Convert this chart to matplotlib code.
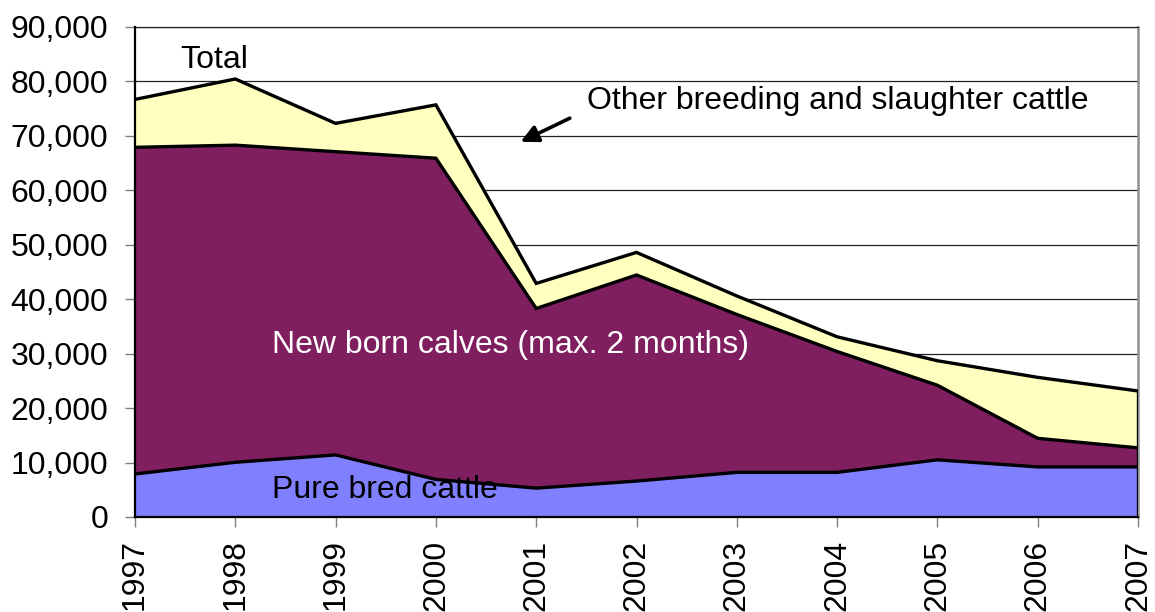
import matplotlib
matplotlib.use("Agg")
import matplotlib.pyplot as plt
import numpy as np

years = [1997, 1998, 1999, 2000, 2001, 2002, 2003, 2004, 2005, 2006, 2007]
pure_bred = [7900, 10050, 11400, 6900, 5300, 6600, 8200, 8200, 10500, 9200, 9200]
new_born_calves = [60000, 58250, 55700, 59000, 33000, 37850, 29000, 22200, 13700, 5250, 3500]
other_cattle = [8800, 12150, 5200, 9800, 4600, 4150, 3400, 2700, 4500, 11200, 10450]
y_ticks = [0, 10000, 20000, 30000, 40000, 50000, 60000, 70000, 80000, 90000]

plt.rcParams['font.family'] = ['Liberation Sans', 'DejaVu Sans']
FS = 23

fig = plt.figure(figsize=(11.55, 6.12), dpi=100)
ax = fig.add_axes([135/1155, (612-517)/612, 1003/1155, 490/612])

x = np.array(years)
p = np.array(pure_bred)
c = p + np.array(new_born_calves)
t = c + np.array(other_cattle)

ax.fill_between(x, 0, p, color='#8080FF', zorder=2, linewidth=0)
ax.fill_between(x, p, c, color='#7F1F5F', zorder=2, linewidth=0)
ax.fill_between(x, c, t, color='#FFFFC0', zorder=2, linewidth=0)
for s in (p, c, t):
    ax.plot(x, s, color='black', lw=2.4, zorder=3, solid_joinstyle='miter')
ax.plot([x[-1], x[-1]], [0, t[-1]], color='black', lw=2.4, zorder=3)

ax.set_xlim(years[0], years[-1])
ax.set_ylim(0, 90000)
ax.set_yticks(y_ticks)
ax.set_yticklabels([f"{v:,}" for v in y_ticks], fontsize=FS)
ax.set_xticks(years)
ax.set_xticklabels([str(y) for y in years], rotation=90, fontsize=FS)
ax.grid(axis='y', color='#222222', lw=0.9, zorder=1)
ax.set_axisbelow(True)
ax.tick_params(axis='both', direction='out', length=7.2, width=1, color='#808080')
ax.tick_params(axis='y', pad=12)
ax.tick_params(axis='x', pad=9)
ax.spines['top'].set_color('#222222')
ax.spines['top'].set_linewidth(0.9)
ax.spines['right'].set_color('#909090')
ax.spines['right'].set_linewidth(1.8)
for s in ('left', 'bottom'):
    ax.spines[s].set_color('black')
    ax.spines[s].set_linewidth(1.6)
    ax.spines[s].set_zorder(4)

ax.text(1997.45, 83900, 'Total', fontsize=FS, va='center', ha='left', zorder=5)
ax.text(2001.51, 76400, 'Other breeding and slaughter cattle', fontsize=FS, va='center', ha='left', zorder=5)
ax.annotate('', xy=(2000.82, 68690), xytext=(2001.36, 73470),
            arrowprops=dict(arrowstyle='-|>', color='black', lw=2.6, mutation_scale=26), zorder=5)
ax.text(1998.37, 31590, 'New born calves (max. 2 months)', fontsize=FS, va='center', ha='left', color='white', zorder=5)
ax.text(1998.37, 4960, 'Pure bred cattle', fontsize=FS, va='center', ha='left', color='black', zorder=5)

fig.savefig('out.png', dpi=100)
